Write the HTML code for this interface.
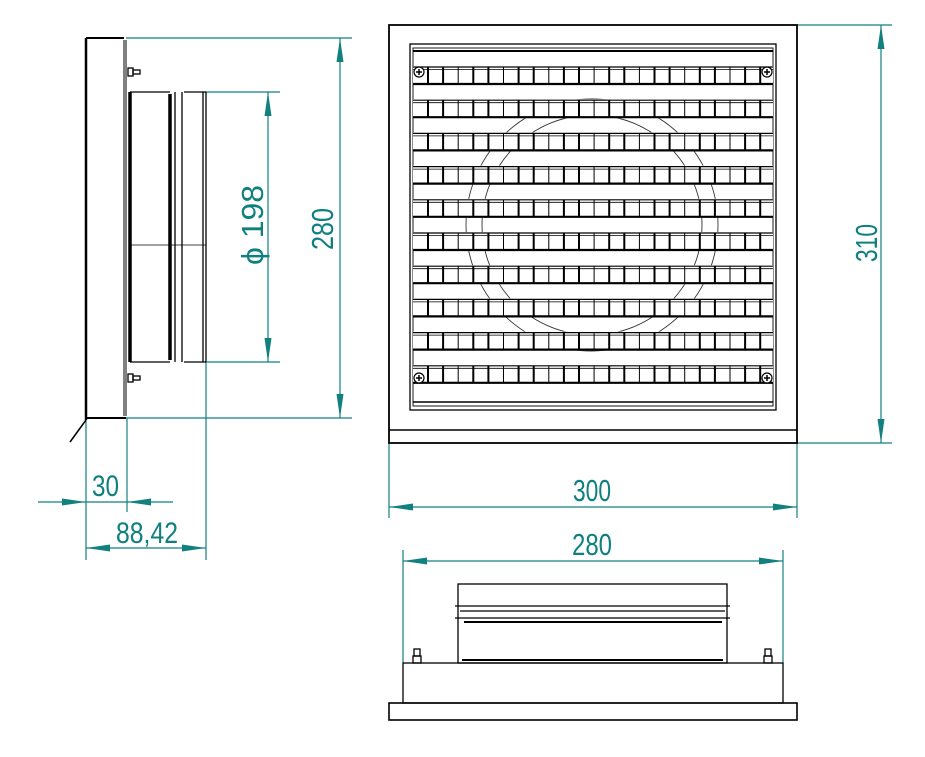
<!DOCTYPE html>
<html><head><meta charset="utf-8"><style>
html,body{margin:0;padding:0;background:#fff;width:925px;height:757px;overflow:hidden}
svg{display:block}
text{font-family:"Liberation Sans",sans-serif;fill:#0f7f7f}
</style></head><body>
<svg id="s" width="925" height="757" viewBox="0 0 925 757" xmlns="http://www.w3.org/2000/svg">
<g id="dim" stroke="#138080" stroke-width="1.2" fill="none">
<line x1="126" y1="38" x2="352" y2="38"/>
<line x1="126" y1="418" x2="352" y2="418"/>
<line x1="205" y1="92" x2="280" y2="92"/>
<line x1="205" y1="362" x2="280" y2="362"/>
<line x1="340" y1="38" x2="340" y2="418"/>
<line x1="268" y1="92" x2="268" y2="362"/>
<line x1="86" y1="418" x2="86" y2="560"/>
<line x1="127" y1="418" x2="127" y2="512"/>
<line x1="206" y1="362" x2="206" y2="560"/>
<line x1="38" y1="502" x2="173" y2="502"/>
<line x1="86" y1="548" x2="206" y2="548"/>
<line x1="797" y1="25" x2="892" y2="25"/>
<line x1="797" y1="443" x2="892" y2="443"/>
<line x1="881" y1="25" x2="881" y2="443"/>
<line x1="389" y1="443" x2="389" y2="518"/>
<line x1="797" y1="443" x2="797" y2="518"/>
<line x1="389" y1="507" x2="797" y2="507"/>
<line x1="403" y1="550" x2="403" y2="663"/>
<line x1="783" y1="550" x2="783" y2="663"/>
<line x1="403" y1="561" x2="783" y2="561"/>
</g>
<g id="arrows" fill="#138080"></g>
<text x="92" y="496" font-size="30" textLength="27" lengthAdjust="spacingAndGlyphs">30</text>
<text x="116" y="543" font-size="30" textLength="62" lengthAdjust="spacingAndGlyphs">88,42</text>
<text x="573" y="501" font-size="31" textLength="38" lengthAdjust="spacingAndGlyphs">300</text>
<text x="572" y="555" font-size="31" textLength="40" lengthAdjust="spacingAndGlyphs">280</text>
<text transform="translate(333,250) rotate(-90)" font-size="31" textLength="42" lengthAdjust="spacingAndGlyphs">280</text>
<text transform="translate(877,262) rotate(-90)" font-size="31" textLength="38" lengthAdjust="spacingAndGlyphs">310</text>
<text transform="translate(263,265) rotate(-90)" font-size="31" textLength="80" lengthAdjust="spacingAndGlyphs">ϕ 198</text>

<g id="draw" stroke="#000" fill="none" stroke-width="1.3">
<line x1="86" y1="38" x2="86" y2="420" stroke-width="2.5"/>
<line x1="86" y1="38" x2="124" y2="38" stroke-width="2"/>
<line x1="86" y1="418" x2="126" y2="418" stroke-width="2"/>
<line x1="86" y1="420" x2="70" y2="442" stroke-width="1.5"/>
<line x1="124" y1="40" x2="124" y2="416" stroke-width="1"/>
<line x1="126" y1="40" x2="126" y2="416" stroke-width="1"/>
<rect x="128" y="68" width="5" height="8"/><rect x="133" y="70" width="7" height="4"/>
<rect x="128" y="374" width="5" height="8"/><rect x="133" y="376" width="7" height="4"/>
<line x1="130" y1="92" x2="130" y2="362" stroke-width="3.5"/>
<line x1="130" y1="92" x2="170" y2="92"/>
<line x1="130" y1="362" x2="170" y2="362"/>
<line x1="170" y1="94" x2="170" y2="360" stroke-width="3.5"/>
<line x1="175" y1="92" x2="175" y2="362"/>
<line x1="182" y1="92" x2="182" y2="362"/>
<line x1="184" y1="92" x2="206" y2="92"/>
<line x1="184" y1="362" x2="206" y2="362"/>
<line x1="203" y1="92" x2="203" y2="362"/>
<line x1="206" y1="92" x2="206" y2="362"/>
<line x1="130" y1="245" x2="206" y2="245" stroke-width="0.8"/>
<rect x="389" y="25" width="408" height="418" stroke-width="1.8"/>
<line x1="389" y1="430" x2="797" y2="430" stroke-width="1.5"/>
<rect x="410" y="44" width="366" height="366"/>
<rect x="413" y="48" width="360" height="358" stroke-width="0.9"/>
<line x1="413" y1="51" x2="773" y2="51" stroke-width="2"/>
<line x1="413" y1="402" x2="773" y2="402" stroke-width="1.5"/>
<circle cx="592" cy="225" r="126" stroke-width="0.9" stroke="#333"/>
<circle cx="592" cy="225" r="110" stroke-width="0.9" stroke="#333"/>
<g id="grille"></g>
<rect x="389" y="703" width="408" height="17" stroke-width="1.6"/>
<rect x="403" y="663" width="380" height="40" stroke-width="1.3"/>
<rect x="458" y="584" width="269" height="79"/>
<line x1="455" y1="606" x2="730" y2="606"/>
<line x1="460" y1="611" x2="725" y2="611"/>
<line x1="455" y1="618" x2="730" y2="618"/>
<line x1="464" y1="622" x2="722" y2="622" stroke-width="2"/>
<line x1="462" y1="660" x2="723" y2="660" stroke-width="2"/>
<rect x="414" y="649" width="6" height="7"/><rect x="413" y="656" width="8" height="7"/>
<rect x="765" y="649" width="6" height="7"/><rect x="764" y="656" width="8" height="7"/>
</g>
</svg>
<script>
var NS="http://www.w3.org/2000/svg";
function el(p,t,a){var e=document.createElementNS(NS,t);for(var k in a)e.setAttribute(k,a[k]);p.appendChild(e);return e;}
var A=document.getElementById("arrows");
function arrow(x,y,dir){
 var L=24,W=3.5,pts;
 if(dir=='l')pts=[[x,y],[x+L,y-W],[x+L,y+W]];
 if(dir=='r')pts=[[x,y],[x-L,y-W],[x-L,y+W]];
 if(dir=='u')pts=[[x,y],[x-W,y+L],[x+W,y+L]];
 if(dir=='d')pts=[[x,y],[x-W,y-L],[x+W,y-L]];
 el(A,"polygon",{points:pts.map(function(p){return p.join(",")}).join(" ")});
}
arrow(340,38,'u');arrow(340,418,'d');
arrow(268,92,'u');arrow(268,362,'d');
arrow(86,502,'r');arrow(127,502,'l');
arrow(86,548,'l');arrow(206,548,'r');
arrow(881,25,'u');arrow(881,443,'d');
arrow(389,507,'l');arrow(797,507,'r');
arrow(403,561,'l');arrow(783,561,'r');
var G=document.getElementById("grille");
for(var i=0;i<10;i++){
 var t=67+i*33.2, b=t+17;
 el(G,"rect",{x:413,y:t-1,width:360,height:19,fill:"#fff",stroke:"none"});
 el(G,"line",{x1:413,y1:t,x2:773,y2:t,"stroke-width":1.2});
 el(G,"line",{x1:413,y1:t+2.5,x2:773,y2:t+2.5,"stroke-width":0.8});
 el(G,"line",{x1:413,y1:b,x2:773,y2:b,"stroke-width":2.2});
 for(var x=428;x<772;x+=15.1){
  el(G,"line",{x1:x,y1:t,x2:x,y2:b,"stroke-width":(Math.round((x-428)/15.1)%3==2)?1:2});
 }
}
[[419,72],[767,72],[419,378],[767,378]].forEach(function(p){
 el(G,"circle",{cx:p[0],cy:p[1],r:5,fill:"#fff","stroke-width":1.2});
 el(G,"line",{x1:p[0]-3,y1:p[1],x2:p[0]+3,y2:p[1],"stroke-width":1.5});
 el(G,"line",{x1:p[0],y1:p[1]-3,x2:p[0],y2:p[1]+3,"stroke-width":1.5});
});
</script>
</body></html>
